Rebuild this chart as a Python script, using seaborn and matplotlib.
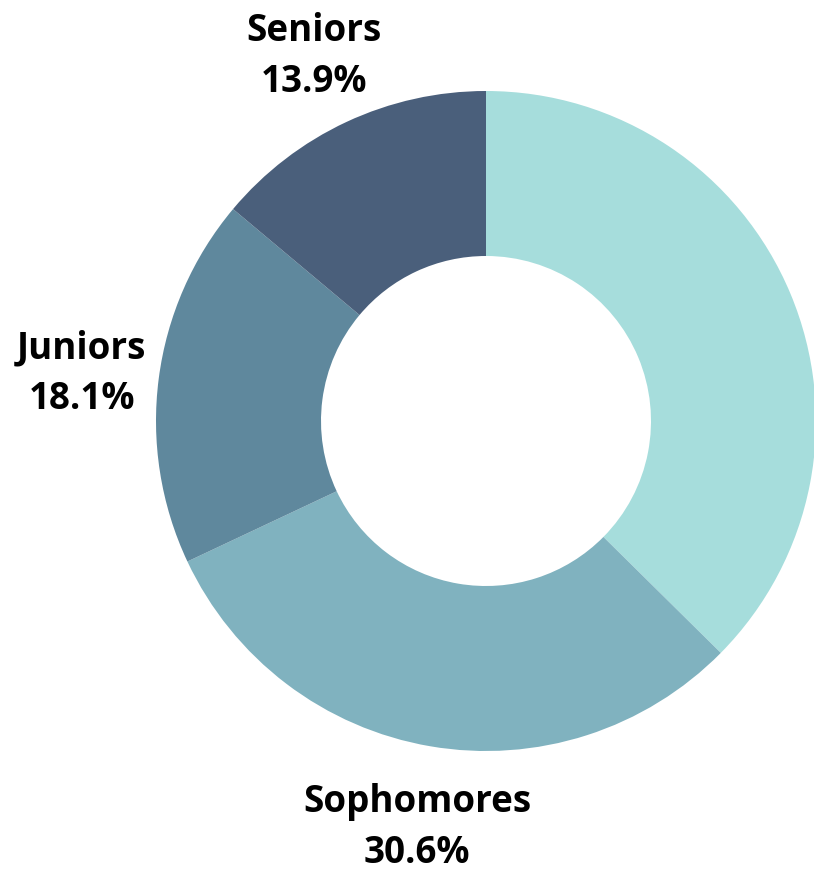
import matplotlib
matplotlib.use("Agg")
import matplotlib.pyplot as plt
import seaborn as sns

categories = ["Freshmen", "Sophomores", "Juniors", "Seniors"]
shares = [37.4, 30.6, 18.1, 13.9]
colors = ["#a6dddc", "#80b2bf", "#5f889d", "#4a5f7b"]
shown = [False, True, True, True]

sns.set_theme(style="white")
plt.rcParams["font.family"] = ["Open Sans", "DejaVu Sans"]

W, H = 814, 870
fig = plt.figure(figsize=(W / 100, H / 100), dpi=100)
ax = fig.add_axes([0, 0, 1, 1])

R = 330
labels = [f"{c}\n{s:.1f}%" if v else "" for c, s, v in zip(categories, shares, shown)]
wedges, texts = ax.pie(
    shares,
    labels=labels,
    colors=sns.color_palette(colors),
    startangle=90,
    counterclock=False,
    radius=R,
    center=(486, 448),
    labeldistance=1.235,
    wedgeprops=dict(width=165, linewidth=0),
    textprops=dict(fontsize=26.5, fontweight="bold", color="black", linespacing=1.45),
    frame=True,
)
for t in texts:
    t.set_ha("center")
    t.set_va("center")
    x, y = t.get_position()
    t.set_position((x, y - 4))
ax.set_xlim(0, W)
ax.set_ylim(0, H)
ax.set_aspect("equal")
ax.axis("off")
fig.savefig("out.png", dpi=100)
